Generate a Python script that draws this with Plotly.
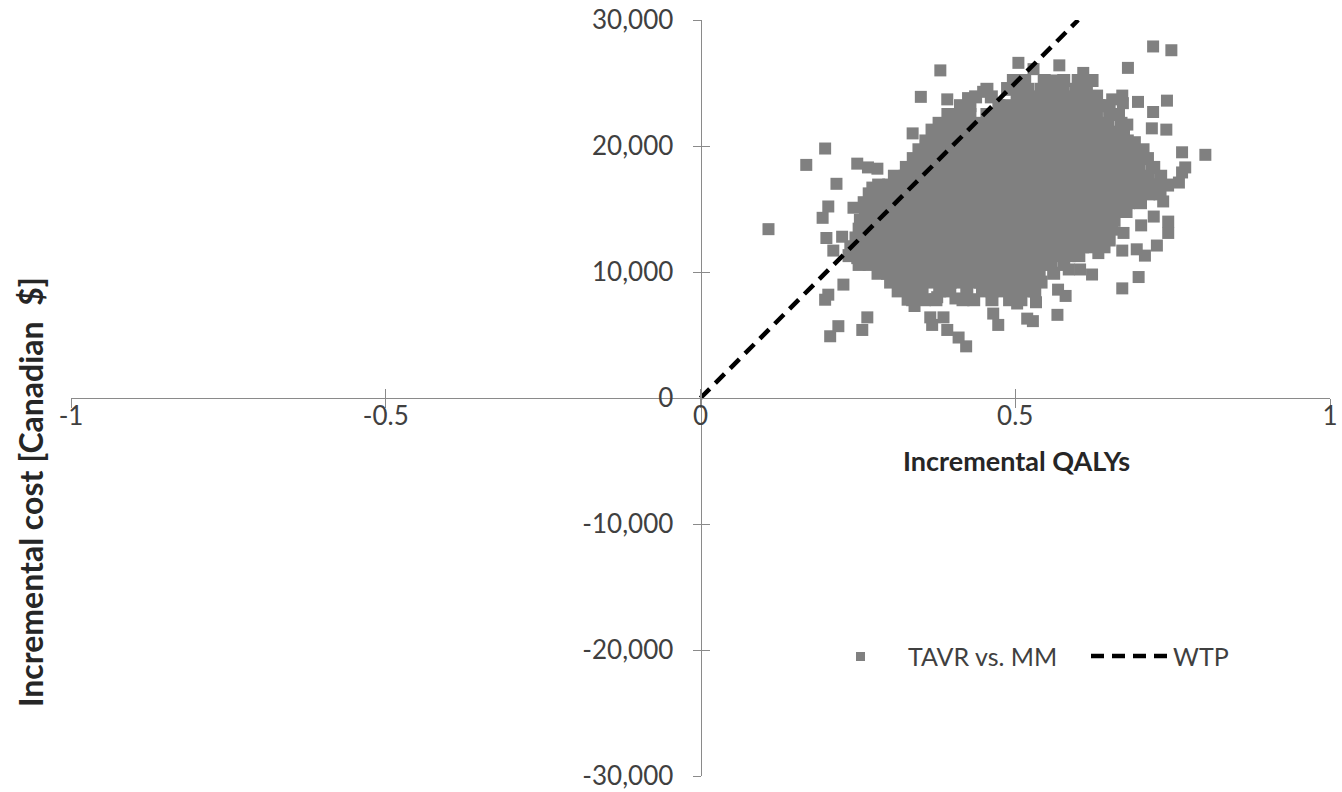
import plotly.graph_objects as go

# ---------------- data ----------------
# dense core of the probabilistic sensitivity cloud: (incremental cost, [incremental QALYs x1000])
core_rows = [
    (25200, [497, 515, 546, 577, 600, 622]),
    (24500, [455, 489, 507, 520, 541, 558, 574, 596, 613]),
    (23900, [437, 462, 503, 518, 536, 551, 570, 583, 603, 619]),
    (23200, [413, 428, 474, 490, 505, 517, 536, 549, 567, 584, 597, 615, 633, 645]),
    (22500, [393, 409, 428, 455, 472, 483, 501, 519, 532, 551, 565, 584, 599, 612, 629, 650, 664]),
    (21800, [379, 396, 410, 427, 445, 459, 475, 491, 506, 518, 537, 553, 566, 585, 601, 614, 633, 647, 668]),
    (21100, [369, 384, 400, 417, 433, 447, 465, 480, 492, 511, 528, 541, 560, 575, 588, 608, 620, 640, 656, 672]),
    (20400, [358, 376, 391, 404, 423, 438, 455, 468, 487, 503, 515, 535, 548, 566, 583, 596, 614, 628, 646, 663, 678]),
    (19700, [347, 362, 380, 396, 413, 429, 444, 459, 477, 495, 509, 524, 543, 557, 573, 591, 605, 621, 640, 655, 668, 686, 703]),
    (19000, [338, 355, 371, 389, 403, 421, 437, 451, 467, 485, 499, 518, 531, 547, 563, 581, 597, 611, 629, 643, 661, 677, 690, 710]),
    (18300, [327, 344, 360, 377, 395, 409, 425, 443, 457, 473, 491, 505, 521, 539, 553, 569, 587, 601, 617, 635, 649, 665, 684, 697, 720]),
    (17600, [308, 325, 343, 357, 372, 391, 405, 421, 439, 453, 469, 487, 501, 517, 535, 549, 565, 583, 599, 613, 631, 645, 661, 679, 693, 711, 731]),
    (16900, [283, 299, 313, 330, 343, 362, 377, 391, 409, 423, 441, 455, 471, 489, 503, 519, 537, 551, 567, 585, 599, 615, 633, 647, 663, 681, 695, 713, 727, 742]),
    (16200, [268, 283, 299, 312, 331, 346, 360, 378, 392, 410, 424, 440, 458, 472, 488, 506, 520, 536, 554, 568, 584, 602, 616, 632, 650, 664, 680, 698, 712, 730]),
    (15500, [260, 277, 295, 308, 327, 341, 359, 373, 389, 407, 421, 437, 455, 469, 485, 503, 517, 533, 551, 565, 581, 599, 613, 629, 647, 661, 680, 699]),
    (14800, [262, 275, 291, 309, 323, 339, 357, 371, 387, 405, 419, 435, 453, 467, 483, 501, 515, 531, 549, 563, 579, 597, 611, 627, 645, 658, 676]),
    (14100, [254, 270, 288, 302, 318, 336, 350, 366, 384, 398, 414, 432, 446, 462, 480, 494, 510, 528, 542, 558, 576, 590, 606, 624, 638, 657]),
    (13400, [252, 267, 283, 301, 315, 331, 349, 363, 379, 397, 411, 427, 445, 459, 475, 493, 507, 523, 541, 555, 571, 589, 603, 619, 637, 653]),
    (12700, [247, 263, 281, 295, 311, 329, 343, 359, 377, 391, 407, 425, 439, 455, 473, 487, 503, 521, 535, 551, 569, 583, 599, 617, 633, 648]),
    (12000, [242, 258, 271, 289, 303, 319, 337, 351, 367, 385, 399, 415, 433, 447, 463, 481, 495, 511, 529, 543, 559, 577, 591, 607, 622, 641]),
    (11300, [236, 250, 267, 281, 297, 315, 329, 345, 363, 377, 393, 411, 425, 441, 459, 473, 489, 507, 521, 537, 555, 569, 586, 601]),
    (10600, [252, 268, 283, 299, 317, 331, 347, 365, 379, 395, 413, 427, 443, 461, 475, 491, 509, 523, 539, 556, 577]),
    (9900, [282, 297, 313, 331, 345, 361, 379, 393, 409, 427, 441, 457, 475, 489, 505, 523, 538, 561]),
    (9200, [302, 317, 335, 349, 365, 383, 397, 413, 431, 445, 461, 479, 493, 509, 527, 541]),
    (8500, [314, 333, 352, 380, 396, 423, 448, 463, 481, 497, 514, 531]),
    (7800, [337, 356, 374, 417, 434, 463, 491, 509]),
]

# scattered simulations around the core
outlier_qaly = [0.108, 0.168, 0.198, 0.216, 0.249, 0.266, 0.281, 0.273, 0.381, 0.505,
                0.350, 0.392, 0.337, 0.367, 0.203, 0.194, 0.243, 0.200, 0.211, 0.225,
                0.238, 0.249, 0.227, 0.203, 0.198, 0.219, 0.206, 0.265, 0.257, 0.329,
                0.340, 0.365, 0.368, 0.386, 0.392, 0.410, 0.422, 0.376, 0.405, 0.465,
                0.473, 0.503, 0.519, 0.735, 0.743, 0.743, 0.725, 0.706, 0.693, 0.670,
                0.672, 0.700, 0.720, 0.696, 0.670, 0.622, 0.603, 0.585, 0.580, 0.568,
                0.567, 0.528, 0.533, 0.632, 0.650, 0.719, 0.748, 0.679, 0.570, 0.529,
                0.608, 0.616, 0.560, 0.670, 0.671, 0.695, 0.741, 0.719, 0.678, 0.717,
                0.740, 0.765, 0.802, 0.770, 0.765, 0.760, 0.730, 0.717, 0.690, 0.650,
                0.576, 0.449, 0.487, 0.425, 0.654, 0.630]
outlier_cost = [13400, 18500, 19800, 17000, 18600, 18300, 18200, 16700, 26000, 26600,
                23900, 23700, 21000, 21300, 15200, 14300, 15100, 12700, 11700, 12800,
                12000, 11100, 9000, 8200, 7800, 5700, 4900, 6400, 5400, 7800,
                7300, 6400, 5800, 6400, 5400, 4800, 4100, 8000, 7900, 6700,
                5800, 7500, 6300, 15600, 14000, 13100, 12100, 11300, 11800, 11700,
                13100, 13700, 14400, 9600, 8700, 9800, 10200, 10200, 8100, 8600,
                6600, 6100, 7600, 11500, 12500, 27900, 27600, 26200, 26400, 26100,
                25800, 25200, 25200, 24000, 23400, 23500, 23600, 22700, 21700, 21400,
                21300, 19500, 19300, 18300, 17900, 17100, 16700, 18300, 20300, 22900,
                24300, 24300, 24600, 23800, 23700, 24000]

# willingness-to-pay threshold line (50,000 $/QALY)
wtp_qaly = [0, 0.6]
wtp_cost = [0, 30000]

x_ticks = [-1, -0.5, 0, 0.5, 1]
x_labels = ["-1", "-0.5", "0", "0.5", "1"]
y_ticks = [-30000, -20000, -10000, 0, 10000, 20000, 30000]
y_labels = ["-30,000", "-20,000", "-10,000", "0", "10,000", "20,000", "30,000"]

# ---------------- build ----------------
core_qaly, core_cost = [], []
for cost, qalys in core_rows:
    for q in qalys:
        core_qaly.append(q / 1000)
        core_cost.append(cost)

FONT = "Lato"
AX = "#8a8a8a"
TXT = "#404040"
GRAY = "#808080"

fig = go.Figure()
fig.add_trace(go.Scatter(
    x=core_qaly, y=core_cost, mode="markers", name="TAVR vs. MM",
    marker=dict(symbol="square", size=13, color=GRAY, line=dict(width=0)),
    showlegend=False, xaxis="x", yaxis="y"))
fig.add_trace(go.Scatter(
    x=outlier_qaly, y=outlier_cost, mode="markers", name="TAVR vs. MM",
    marker=dict(symbol="square", size=12, color=GRAY, line=dict(width=0)),
    showlegend=False, xaxis="x", yaxis="y"))
fig.add_trace(go.Scatter(
    x=wtp_qaly, y=wtp_cost, mode="lines", name="WTP",
    line=dict(color="black", width=4.5, dash="13px,8px"),
    showlegend=False, xaxis="x2", yaxis="y2"))

common_x = dict(range=[-1, 1], tickvals=x_ticks, showgrid=False, zeroline=False,
                anchor="free", position=0.5, ticklen=9, tickcolor=AX, tickwidth=1,
                automargin=False)
common_y = dict(range=[-30000, 30000], tickvals=y_ticks, showgrid=False, zeroline=False,
                anchor="free", position=0.5, ticklen=8, tickcolor=AX, tickwidth=1,
                automargin=False)

fig.update_layout(
    width=1342, height=792,
    margin=dict(l=71, r=12, t=20, b=16),
    paper_bgcolor="white", plot_bgcolor="white",
    font=dict(family=FONT, color=TXT, size=26),
    xaxis=dict(**common_x, ticks="outside", showline=True, linecolor=AX, linewidth=1,
               ticktext=x_labels, tickfont=dict(size=26, color=TXT), ticklabelstandoff=-14),
    xaxis2=dict(**common_x, ticks="inside", overlaying="x", showline=False,
                showticklabels=False),
    yaxis=dict(**common_y, ticks="outside", showline=True, linecolor=AX, linewidth=1,
               ticktext=y_labels, tickfont=dict(size=26, color=TXT), ticklabelstandoff=14),
    yaxis2=dict(**common_y, ticks="inside", overlaying="y", showline=False,
                showticklabels=False),
    showlegend=False,
)

def px2paper_x(px):
    return (px - 71) / 1259

def px2paper_y(py):
    return (776 - py) / 756

annotations = [
    dict(text="<b>Incremental QALYs</b>", x=px2paper_x(1016), y=px2paper_y(460),
         xref="paper", yref="paper", showarrow=False, xanchor="center", yanchor="middle",
         font=dict(size=27, color="#262626", family=FONT)),
    dict(text="<b>Incremental cost [Canadian  $]</b>", x=px2paper_x(30), y=px2paper_y(492),
         xref="paper", yref="paper", showarrow=False, xanchor="center", yanchor="middle",
         textangle=-90, font=dict(size=32, color="#262626", family=FONT)),
    dict(text="TAVR vs. MM", x=px2paper_x(906), y=px2paper_y(656),
         xref="paper", yref="paper", showarrow=False, xanchor="left", yanchor="middle",
         font=dict(size=25, color=TXT, family=FONT)),
    dict(text="WTP", x=px2paper_x(1171), y=px2paper_y(656),
         xref="paper", yref="paper", showarrow=False, xanchor="left", yanchor="middle",
         font=dict(size=25, color=TXT, family=FONT)),
]
shapes = [
    dict(type="rect", xref="paper", yref="paper",
         x0=px2paper_x(856), x1=px2paper_x(865), y0=px2paper_y(661), y1=px2paper_y(652),
         fillcolor=GRAY, line=dict(width=0)),
    dict(type="line", xref="paper", yref="paper",
         x0=px2paper_x(1091), x1=px2paper_x(1171), y0=px2paper_y(656), y1=px2paper_y(656),
         line=dict(color="black", width=4.5, dash="13px,8px")),
]
fig.update_layout(annotations=annotations, shapes=shapes)

fig.write_html("out.html")
